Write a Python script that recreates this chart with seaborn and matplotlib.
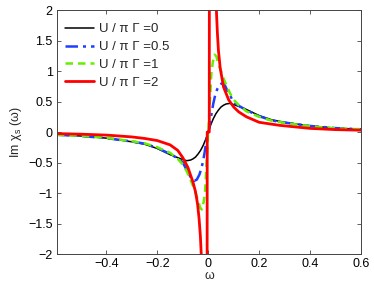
import numpy as np
import pandas as pd
import matplotlib
matplotlib.use("Agg")
import matplotlib.pyplot as plt
import seaborn as sns

# ---- data ----
labels = ["U / π Γ =0", "U / π Γ =0.5", "U / π Γ =1", "U / π Γ =2"]

w_u0 = [-0.595, -0.5, -0.4, -0.3, -0.25, -0.2, -0.15, -0.12, -0.1, -0.085, -0.07, -0.06,
        -0.05, -0.04, -0.03, -0.02, -0.01, 0.0, 0.01, 0.02, 0.03, 0.04, 0.05, 0.06, 0.07,
        0.085, 0.1, 0.12, 0.15, 0.2, 0.25, 0.3, 0.4, 0.5, 0.6]
chi_u0 = [-0.045, -0.065, -0.1, -0.16, -0.2, -0.27, -0.37, -0.42, -0.45, -0.47, -0.46, -0.44,
          -0.41, -0.36, -0.3, -0.22, -0.12, 0.0, 0.12, 0.22, 0.3, 0.36, 0.41, 0.44, 0.46,
          0.47, 0.45, 0.42, 0.37, 0.27, 0.2, 0.16, 0.1, 0.065, 0.045]

w_u05 = [-0.595, -0.5, -0.4, -0.3, -0.25, -0.2, -0.15, -0.12, -0.1, -0.08, -0.065, -0.055,
         -0.045, -0.035, -0.027, -0.02, -0.014, -0.008, -0.004, 0.0, 0.004, 0.008, 0.014,
         0.02, 0.027, 0.035, 0.045, 0.055, 0.065, 0.075, 0.1, 0.12, 0.15, 0.2, 0.25, 0.3,
         0.4, 0.5, 0.6]
chi_u05 = [-0.045, -0.065, -0.1, -0.155, -0.19, -0.26, -0.36, -0.43, -0.5, -0.66, -0.77, -0.8,
           -0.78, -0.7, -0.6, -0.47, -0.33, -0.16, -0.07, 0.0, 0.07, 0.16, 0.33, 0.47, 0.6,
           0.7, 0.78, 0.8, 0.77, 0.68, 0.49, 0.43, 0.36, 0.26, 0.19, 0.155, 0.1, 0.065, 0.045]

w_u1 = [-0.595, -0.5, -0.4, -0.3, -0.25, -0.2, -0.15, -0.12, -0.1, -0.085, -0.07, -0.06,
        -0.05, -0.04, -0.032, -0.025, -0.018, -0.012, -0.008, -0.004, 0.0, 0.004, 0.008,
        0.012, 0.018, 0.025, 0.032, 0.04, 0.05, 0.06, 0.07, 0.085, 0.1, 0.12, 0.15, 0.2,
        0.25, 0.3, 0.4, 0.5, 0.6]
chi_u1 = [-0.045, -0.06, -0.095, -0.15, -0.185, -0.25, -0.34, -0.44, -0.53, -0.64, -0.78, -0.88,
          -1.0, -1.12, -1.24, -1.27, -1.15, -0.95, -0.62, -0.3, 0.0, 0.3, 0.62, 0.95, 1.15,
          1.27, 1.24, 1.12, 1.0, 0.88, 0.78, 0.64, 0.53, 0.44, 0.34, 0.25, 0.185, 0.15, 0.095,
          0.06, 0.045]

w_u2 = [-0.595, -0.5, -0.4, -0.3, -0.25, -0.2, -0.15, -0.12, -0.1, -0.08, -0.06, -0.05,
        -0.042, -0.036, -0.031, -0.027, -0.024, -0.0045, -0.004, 0.004, 0.0045, 0.024,
        0.029, 0.032, 0.036, 0.04, 0.047, 0.06, 0.08, 0.1, 0.12, 0.15, 0.2, 0.28, 0.4, 0.5, 0.6]
chi_u2 = [-0.025, -0.035, -0.05, -0.08, -0.105, -0.14, -0.21, -0.3, -0.42, -0.58, -0.82, -0.98,
          -1.18, -1.42, -1.7, -2.05, -3.0, -3.0, 0.0, 0.0, 3.0, 3.0,
          2.3, 2.0, 1.62, 1.34, 1.05, 0.74, 0.53, 0.41, 0.33, 0.25, 0.16, 0.11, 0.06, 0.04, 0.03]

x_ticks = [-0.4, -0.2, 0, 0.2, 0.4, 0.6]
y_ticks = [-2, -1.5, -1, -0.5, 0, 0.5, 1, 1.5, 2]

series = [(w_u0, chi_u0), (w_u05, chi_u05), (w_u1, chi_u1), (w_u2, chi_u2)]
colors = ["#000000", "#1f3fff", "#66ee00", "#ff0000"]
widths = [1.1, 1.8, 1.8, 2.0]
dashes = ["-", (0, (5, 2, 1.2, 2)), (0, (3, 2)), "-"]

sns.set_style("ticks")
plt.rcParams["font.family"] = ["Liberation Sans", "DejaVu Sans"]
plt.rcParams["mathtext.fontset"] = "custom"
plt.rcParams["mathtext.rm"] = "Liberation Sans"

fig = plt.figure(figsize=(3.74, 2.88), dpi=100)
ax = fig.add_axes([0.152, 0.118, 0.813, 0.847])

for (w, c), lab, col, lw, ls in zip(series, labels, colors, widths, dashes):
    df = pd.DataFrame({"w": w, "chi": c})
    sns.lineplot(data=df, x="w", y="chi", ax=ax, sort=False, estimator=None,
                 color=col, linewidth=lw, linestyle=ls, label=lab)

ax.set_xlim(-0.595, 0.6)
ax.set_ylim(-2, 2)
ax.set_xticks(x_ticks)
ax.set_xticklabels(["\u22120.4", "\u22120.2", "0", "0.2", "0.4", "0.6"])
ax.set_yticks(y_ticks)
ax.set_yticklabels(["\u22122", "\u22121.5", "\u22121", "\u22120.5", "0", "0.5", "1", "1.5", "2"])
ax.tick_params(direction="in", length=3, width=0.6, top=True, right=True,
               labelsize=9, pad=3, colors="#444444", labelcolor="black")
for s in ax.spines.values():
    s.set_visible(True)
    s.set_linewidth(0.7)
    s.set_color("#444444")

ax.set_xlabel("ω", fontsize=9, labelpad=0)
ax.set_ylabel(r"Im χ$_{\mathrm{s}}$ (ω)", fontsize=9, labelpad=3)

leg = ax.legend(loc="upper left", frameon=False, fontsize=9.5, handlelength=2.2,
                handletextpad=0.4, labelspacing=0.42, borderaxespad=0.0,
                bbox_to_anchor=(0.01, 0.968))

fig.savefig("out.png", dpi=100)
